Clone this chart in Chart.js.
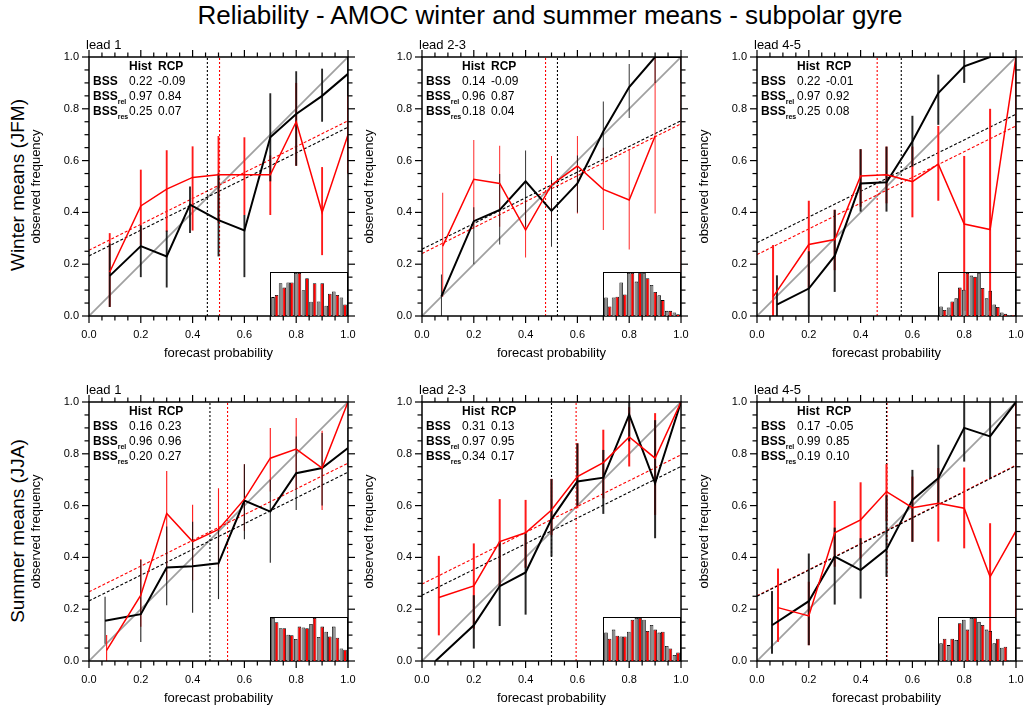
<!DOCTYPE html>
<html>
<head>
<meta charset="utf-8">
<title>Reliability - AMOC winter and summer means - subpolar gyre</title>
<script src="https://cdn.jsdelivr.net/npm/chart.js@4.4.0/dist/chart.umd.min.js"></script>
<style>
  body { margin: 0; background: #fff; width: 1025px; height: 713px; position: relative; overflow: hidden;
         font-family: 'Liberation Sans', Arial, Helvetica, sans-serif; color: #000; }
  canvas { position: absolute; }
  #title { position: absolute; left: 0; top: 0; width: 1100px; text-align: center; font-size: 26px; line-height: 30px; white-space: nowrap; }
  .rowlab { position: absolute; width: 220px; text-align: center; font-size: 19px; line-height: 22px;
            transform: rotate(-90deg); white-space: nowrap; }
</style>
</head>
<body>
<div id="title">Reliability - AMOC winter and summer means - subpolar gyre</div>
<script>
// ---- data ----
const mainTitle = 'Reliability - AMOC winter and summer means - subpolar gyre';
const rowLabels = ['Winter means (JFM)', 'Summer means (JJA)'];
const leads = ['lead 1', 'lead 2-3', 'lead 4-5', 'lead 1', 'lead 2-3', 'lead 4-5'];
const tickLabels = ['0.0', '0.2', '0.4', '0.6', '0.8', '1.0'];
const binCentres = ['0.05', '0.15', '0.25', '0.35', '0.45', '0.55', '0.65', '0.75', '0.85', '0.95'];
const bssSubs = ['', 'rel', 'res'];

// historical (black) reliability curves, one row per panel
const histX = [
  [0.08, 0.2, 0.3, 0.39, 0.5, 0.6, 0.7, 0.8, 0.9, 1.0],
  [0.075, 0.2, 0.3, 0.4, 0.5, 0.6, 0.7, 0.8, 0.9, 1.0],
  [0.077, 0.2, 0.3, 0.4, 0.5, 0.6, 0.7, 0.8, 0.9, 1.0],
  [0.062, 0.2, 0.3, 0.4, 0.5, 0.6, 0.7, 0.8, 0.9, 1.0],
  [0.052, 0.2, 0.3, 0.4, 0.5, 0.6, 0.7, 0.8, 0.9, 1.0],
  [0.058, 0.2, 0.3, 0.4, 0.5, 0.6, 0.7, 0.8, 0.9, 1.0]
];
const histY = [
  [0.155, 0.27, 0.23, 0.43, 0.37, 0.33, 0.69, 0.78, 0.85, 0.935],
  [0.076, 0.366, 0.41, 0.52, 0.406, 0.512, 0.712, 0.884, 1.0, 1.0],
  [0.044, 0.106, 0.232, 0.512, 0.516, 0.674, 0.861, 0.964, 1.0, 1.0],
  [0.155, 0.181, 0.361, 0.366, 0.377, 0.619, 0.577, 0.725, 0.745, 0.822],
  [0.0, 0.138, 0.289, 0.342, 0.548, 0.693, 0.708, 0.951, 0.686, 1.0],
  [0.138, 0.231, 0.403, 0.351, 0.431, 0.622, 0.706, 0.9, 0.867, 1.0]
];
const histLo = [
  [0.035, 0.15, 0.11, 0.32, 0.23, 0.15, 0.52, 0.58, 0.75, 0.85],
  [0.0, 0.2, 0.276, 0.345, 0.267, 0.4, 0.596, 0.764, 0.9, 0.9],
  [0.0, 0.0, 0.093, 0.403, 0.403, 0.577, 0.738, 0.9, 1.0, 1.0],
  [0.067, 0.073, 0.215, 0.186, 0.239, 0.47, 0.379, 0.583, 0.6, 0.75],
  [0.0, 0.048, 0.135, 0.179, 0.403, 0.6, 0.568, 0.848, 0.474, 1.0],
  [0.028, 0.061, 0.218, 0.241, 0.325, 0.46, 0.603, 0.77, 0.706, 1.0]
];
const histHi = [
  [0.28, 0.35, 0.33, 0.5, 0.55, 0.39, 0.86, 0.945, 0.955, 1.0],
  [0.16, 0.42, 0.548, 0.639, 0.525, 0.62, 0.828, 0.973, 1.0, 1.0],
  [0.157, 0.25, 0.41, 0.644, 0.654, 0.773, 0.932, 1.0, 1.0, 1.0],
  [0.248, 0.39, 0.519, 0.538, 0.512, 0.76, 0.7, 0.867, 0.88, 0.9],
  [0.0, 0.254, 0.461, 0.493, 0.703, 0.84, 0.815, 1.0, 0.93, 1.0],
  [0.27, 0.415, 0.515, 0.474, 0.64, 0.738, 0.835, 1.0, 1.0, 1.0]
];

// RCP (red) reliability curves
const rcpX = [
  [0.08, 0.2, 0.3, 0.4, 0.5, 0.6, 0.7, 0.8, 0.9, 1.0],
  [0.08, 0.2, 0.3, 0.4, 0.5, 0.6, 0.7, 0.8, 0.9, 1.0],
  [0.062, 0.2, 0.3, 0.4, 0.5, 0.6, 0.7, 0.8, 0.9, 1.0],
  [0.068, 0.2, 0.3, 0.4, 0.5, 0.6, 0.7, 0.8, 0.9, 1.0],
  [0.065, 0.2, 0.3, 0.4, 0.5, 0.6, 0.7, 0.8, 0.9, 1.0],
  [0.081, 0.2, 0.3, 0.4, 0.5, 0.6, 0.7, 0.8, 0.9, 1.0]
];
const rcpY = [
  [0.17, 0.425, 0.49, 0.535, 0.545, 0.545, 0.545, 0.75, 0.40, 0.70],
  [0.27, 0.528, 0.512, 0.332, 0.506, 0.579, 0.489, 0.448, 0.695, null],
  [0.074, 0.276, 0.295, 0.541, 0.545, 0.519, 0.586, 0.355, 0.334, 1.0],
  [0.041, 0.254, 0.57, 0.461, 0.508, 0.625, 0.783, 0.818, 0.745, 1.0],
  [0.245, 0.29, 0.461, 0.495, 0.583, 0.712, 0.766, 0.865, 0.783, 1.0],
  [0.206, 0.174, 0.495, 0.545, 0.654, 0.592, 0.609, 0.59, 0.325, 0.502]
];
const rcpLo = [
  [0.035, 0.275, 0.325, 0.33, 0.36, 0.39, 0.39, 0.58, 0.235, 0.55],
  [0.074, 0.338, 0.345, 0.226, 0.364, 0.396, 0.332, 0.257, 0.396, 0.0],
  [0.0, 0.106, 0.177, 0.422, 0.435, 0.381, 0.445, 0.02, 0.02, 0.0],
  [0.0, 0.132, 0.312, 0.312, 0.364, 0.502, 0.654, 0.667, 0.583, 1.0],
  [0.099, 0.125, 0.289, 0.36, 0.486, 0.59, 0.628, 0.751, 0.564, 1.0],
  [0.074, 0.061, 0.364, 0.396, 0.54, 0.461, 0.461, 0.435, 0.0, 0.0]
];
const rcpHi = [
  [0.32, 0.565, 0.64, 0.655, 0.695, 0.69, 0.62, 0.90, 0.575, 0.9],
  [0.476, 0.68, 0.657, 0.448, 0.618, 0.695, 0.65, 0.645, 1.0, 1.0],
  [0.274, 0.445, 0.41, 0.644, 0.654, 0.654, 0.734, 0.618, 0.8, 1.0],
  [0.1, 0.394, 0.734, 0.603, 0.667, 0.76, 0.9, 0.938, 0.889, 1.0],
  [0.406, 0.454, 0.625, 0.622, 0.703, 0.841, 0.893, 0.98, 0.957, 1.0],
  [0.357, 0.306, 0.618, 0.69, 0.76, 0.712, 0.745, 0.747, 0.532, 1.0]
];

// regression lines: value at p=0 and p=1
const regHist = [[0.232, 0.729], [0.258, 0.754], [0.283, 0.779], [0.232, 0.729], [0.254, 0.751], [0.25, 0.754]];
const regRcp = [[0.254, 0.754], [0.241, 0.742], [0.237, 0.734], [0.267, 0.764], [0.297, 0.796], [0.252, 0.756]];
// climatological frequency (vertical dotted lines)
const climHist = [0.457, 0.523, 0.557, 0.467, 0.5, 0.5];
const climRcp = [0.504, 0.477, 0.464, 0.535, 0.595, 0.502];

// Brier skill scores: BSS, BSS_rel, BSS_res
const bssHist = [[0.22, 0.97, 0.25], [0.14, 0.96, 0.18], [0.22, 0.97, 0.25], [0.16, 0.96, 0.20], [0.31, 0.97, 0.34], [0.17, 0.99, 0.19]];
const bssRcp = [[-0.09, 0.84, 0.07], [-0.09, 0.87, 0.04], [-0.01, 0.92, 0.08], [0.23, 0.96, 0.27], [0.13, 0.95, 0.17], [-0.05, 0.85, 0.10]];

// forecast-probability histograms (relative to the largest bin)
const countHist = [
  [0.44, 0.76, 0.78, 1.0, 0.6, 0.33, 0.34, 0.24, 0.57, 0.43],
  [0.43, 0.43, 0.78, 1.0, 0.8, 1.0, 0.72, 0.48, 0.12, 0.08],
  [0.22, 0.2, 0.41, 0.61, 0.94, 1.0, 0.41, 0.27, 0.08, 0.02],
  [1.0, 0.76, 0.61, 0.51, 0.78, 0.86, 0.56, 0.68, 0.8, 0.29],
  [0.66, 0.73, 0.57, 0.68, 1.0, 0.96, 0.84, 0.66, 0.35, 0.14],
  [0.41, 0.37, 0.49, 0.96, 1.0, 0.91, 0.73, 0.41, 0.31, 0.02]
];
const countRcp = [
  [0.49, 0.66, 0.78, 1.0, 0.88, 0.76, 0.76, 0.52, 0.49, 0.27],
  [0.22, 0.45, 0.5, 1.0, 1.0, 0.88, 0.56, 0.37, 0.12, 0.04],
  [0.14, 0.34, 0.66, 1.0, 0.91, 0.65, 0.59, 0.21, 0.05, 0.02],
  [0.9, 0.76, 0.6, 0.8, 0.76, 1.0, 0.8, 0.57, 0.54, 0.26],
  [0.52, 0.59, 0.57, 0.96, 1.0, 0.7, 0.73, 0.68, 0.29, 0.2],
  [0.52, 0.52, 0.88, 0.73, 1.0, 0.84, 0.7, 0.52, 0.33, 0.0]
];

// ---- layout ----
const FONT = "'Liberation Sans', Arial, Helvetica, sans-serif";
Chart.defaults.font.family = FONT;
Chart.defaults.color = '#000';

const panelLeft = [89, 422, 757, 89, 422, 757];
const panelTop = [57, 57, 57, 402, 402, 402];
const SIZE = 259, PAD_L = 64, PAD_T = 22, PAD_R = 9, PAD_B = 46;

document.getElementById('title').textContent = mainTitle;
rowLabels.forEach((t, r) => {
  const d = document.createElement('div');
  d.className = 'rowlab';
  d.textContent = t;
  d.style.left = (18 - 110) + 'px';
  d.style.top = (r === 0 ? 185 : 531) - 11 + 'px';
  document.body.appendChild(d);
});

const pts = (xs, ys) => xs.map((x, k) => ({ x: x, y: ys[k] }));
const bars = (xs, lo, hi) => xs.map((x, k) => ({ x: x, y: [lo[k], hi[k]] }));

function framePlugin(i) {
  return {
    id: 'frame' + i,
    afterDraw(chart) {
      const { ctx, chartArea: a, scales } = chart;
      const sx = scales.x, sy = scales.y;
      ctx.save();
      ctx.setLineDash([]);
      ctx.globalAlpha = 1;
      ctx.strokeStyle = '#000';
      ctx.fillStyle = '#000';
      ctx.lineWidth = 1.5;
      ctx.strokeRect(a.left, a.top, a.right - a.left, a.bottom - a.top);
      // outward tick marks on all four sides
      const tw = 1.2;
      for (let k = 0; k <= 20; k++) {
        const v = k / 20, len = k % 4 === 0 ? 7 : 4.5;
        const px = sx.getPixelForValue(v), py = sy.getPixelForValue(v);
        ctx.fillRect(px - tw / 2, a.bottom, tw, len);
        ctx.fillRect(px - tw / 2, a.top - len, tw, len);
        ctx.fillRect(a.left - len, py - tw / 2, len, tw);
        ctx.fillRect(a.right, py - tw / 2, len, tw);
      }

      // lead label
      ctx.textBaseline = 'middle';
      ctx.textAlign = 'left';
      ctx.font = '13px ' + FONT;
      ctx.fillText(leads[i], a.left - 3, a.top - 12);

      // skill score table
      const x0 = a.left + 4, xh = a.left + 40, xr = a.left + 69;
      ctx.font = 'bold 12px ' + FONT;
      ctx.fillText('Hist', xh, a.top + 10);
      ctx.fillText('RCP', xr, a.top + 10);
      for (let r = 0; r < 3; r++) {
        const yy = a.top + 25 + 14.8 * r;
        ctx.font = 'bold 12px ' + FONT;
        ctx.fillText('BSS', x0, yy);
        if (bssSubs[r]) {
          const w = ctx.measureText('BSS').width;
          ctx.font = 'bold 7px ' + FONT;
          ctx.fillText(bssSubs[r], x0 + w, yy + 5);
        }
        ctx.font = '12px ' + FONT;
        ctx.fillText(bssHist[i][r].toFixed(2), xh, yy);
        ctx.fillText(bssRcp[i][r].toFixed(2), xr, yy);
      }
      ctx.restore();
    }
  };
}

function makePanel(i) {
  const L = panelLeft[i], T = panelTop[i];
  const cv = document.createElement('canvas');
  cv.width = PAD_L + SIZE + PAD_R;
  cv.height = PAD_T + SIZE + PAD_B;
  cv.style.left = (L - PAD_L) + 'px';
  cv.style.top = (T - PAD_T) + 'px';
  document.body.appendChild(cv);

  new Chart(cv, {
    type: 'line',
    data: {
      datasets: [
        { data: [{ x: 0, y: 0 }, { x: 1, y: 1 }], borderColor: '#a0a0a0', borderWidth: 1.8, order: 9 },
        { data: [{ x: 0, y: regHist[i][0] }, { x: 1, y: regHist[i][1] }], borderColor: '#000', borderWidth: 1.1, borderDash: [3, 2], order: 8 },
        { data: [{ x: 0, y: regRcp[i][0] }, { x: 1, y: regRcp[i][1] }], borderColor: '#ff0000', borderWidth: 1.1, borderDash: [3, 2], order: 8 },
        { data: [{ x: climHist[i], y: 0 }, { x: climHist[i], y: 1 }], borderColor: '#000', borderWidth: 1.1, borderDash: [2, 2], order: 7 },
        { data: [{ x: climRcp[i], y: 0 }, { x: climRcp[i], y: 1 }], borderColor: '#ff0000', borderWidth: 1.1, borderDash: [2, 2], order: 7 },
        { type: 'bar', data: bars(rcpX[i], rcpLo[i], rcpHi[i]), backgroundColor: '#ff1a1a', maxBarThickness: 2, grouped: false, order: 6 },
        { type: 'bar', data: bars(histX[i], histLo[i], histHi[i]), backgroundColor: 'rgba(15,15,15,0.9)', maxBarThickness: 2, grouped: false, order: 5 },
        { data: pts(histX[i], histY[i]), borderColor: '#000', borderWidth: 2, order: 4 },
        { data: pts(rcpX[i], rcpY[i]), borderColor: '#ff0000', borderWidth: 1.5, order: 3 }
      ]
    },
    options: {
      responsive: false,
      animation: false,
      events: [],
      devicePixelRatio: 1,
      layout: { padding: { left: 0, top: PAD_T, right: PAD_R, bottom: 0 } },
      elements: { point: { radius: 0 }, line: { tension: 0 } },
      plugins: { legend: { display: false }, tooltip: { enabled: false } },
      scales: {
        x: {
          type: 'linear', min: 0, max: 1, offset: false,
          grid: { display: false, drawTicks: false }, border: { display: false },
          ticks: { stepSize: 0.2, padding: 12, autoSkip: false, maxRotation: 0, font: { size: 11 },
                   callback: (v, k) => tickLabels[k] },
          title: { display: true, text: 'forecast probability', font: { size: 13 }, padding: { top: 0, bottom: 1 } },
          afterFit: s => { s.height = PAD_B; s.paddingLeft = 0; s.paddingRight = 0; }
        },
        y: {
          type: 'linear', min: 0, max: 1,
          grid: { display: false, drawTicks: false }, border: { display: false },
          ticks: { stepSize: 0.2, padding: 10, autoSkip: false, font: { size: 11 },
                   callback: (v, k) => tickLabels[k] },
          title: { display: true, text: 'observed frequency', font: { size: 13 }, padding: { top: 4, bottom: 0 } },
          afterFit: s => { s.width = PAD_L; s.paddingTop = 0; s.paddingBottom = 0; }
        }
      }
    },
    plugins: [framePlugin(i)]
  });

  // inset histogram
  const ic = document.createElement('canvas');
  ic.width = 78;
  ic.height = 44;
  ic.style.left = (L + 181) + 'px';
  ic.style.top = (T + SIZE - 44) + 'px';
  document.body.appendChild(ic);
  new Chart(ic, {
    type: 'bar',
    data: {
      labels: binCentres,
      datasets: [
        { data: countHist[i], backgroundColor: '#8c8c8c', borderColor: '#000', borderWidth: 0.8 },
        { data: countRcp[i], backgroundColor: '#ff0000', borderColor: '#000', borderWidth: 0.8 }
      ]
    },
    options: {
      responsive: false,
      animation: false,
      events: [],
      devicePixelRatio: 1,
      layout: { padding: { left: 1, top: 1, right: 1, bottom: 0 } },
      datasets: { bar: { categoryPercentage: 0.95, barPercentage: 1 } },
      plugins: { legend: { display: false }, tooltip: { enabled: false } },
      scales: {
        x: { display: false, offset: true },
        y: { display: false, min: 0, max: 1 }
      }
    },
    plugins: [{
      id: 'box',
      afterDraw(chart) {
        const { ctx, chartArea: a } = chart;
        ctx.save();
        ctx.strokeStyle = '#000';
        ctx.lineWidth = 1;
        ctx.strokeRect(a.left - 0.5, a.top - 0.5, a.right - a.left + 1, a.bottom - a.top + 1);
        ctx.restore();
      }
    }]
  });
}

for (let i = 0; i < 6; i++) makePanel(i);
</script>
</body>
</html>
